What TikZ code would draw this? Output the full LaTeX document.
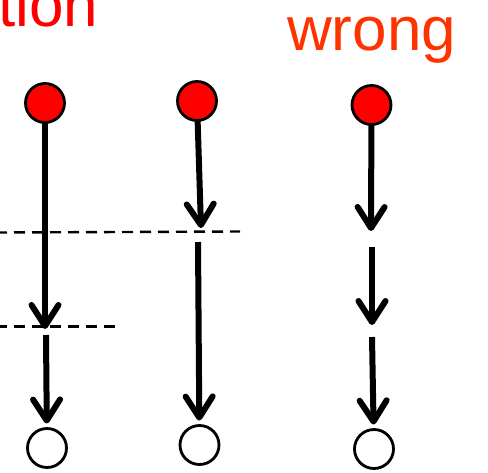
\documentclass[tikz,border=0pt]{standalone}
\usepackage{fontspec}
\setmainfont{Liberation Sans}
\usetikzlibrary{arrows.meta}
\definecolor{redtxt}{HTML}{FF0000}
\definecolor{wrongtxt}{HTML}{FF3300}
\begin{document}
\begin{tikzpicture}[x=1pt,y=-1pt,
  startdot/.style={circle,draw=black,fill=red,line width=2.8pt,minimum size=39pt,inner sep=0pt,outer sep=0pt},
  enddot/.style={circle,draw=black,fill=white,line width=2.8pt,minimum size=39pt,inner sep=0pt,outer sep=0pt},
  flow/.style={line width=6pt,-{Straight Barb[length=21pt,width=27pt,line cap=round,line join=round]}},
  cut/.style={line width=2.4pt,dash pattern=on 11pt off 7pt,dash phase=4pt},
  lbl/.style={font=\fontsize{62}{62}\selectfont,inner sep=0pt,anchor=base west}]
\useasboundingbox (0,0) rectangle (488,472);
\node[lbl,text=redtxt] (t1) at (-2,26) {tion};
\node[lbl,text=wrongtxt] (t2) at (287,50) {wrong};
% coordinates
\coordinate (c1a) at (45,329);
\coordinate (c1b) at (46,335);
\coordinate (c2a) at (201,228);
\coordinate (c2b) at (198,242);
\coordinate (c3a) at (371,231);
\coordinate (c3b) at (372,247);
\coordinate (c3c) at (372,325);
\coordinate (c3d) at (372,337);
\coordinate (d1a) at (0,232.5);
\coordinate (d1b) at (240,231.5);
\coordinate (d2a) at (0,326.5);
\coordinate (d2b) at (117,326.5);
% dashed lines
\draw[cut] (d1a) -- (d1b);
\draw[cut] (d2a) -- (d2b);
% arrows (drawn before dots)
\coordinate (r1c) at (45,103);
\coordinate (r2c) at (197,101);
\coordinate (r3c) at (371.5,105);
\draw[flow] (r1c) -- (c1a);
\draw[flow] (r2c) -- (c2a);
\draw[flow] (r3c) -- (c3a);
\draw[flow] (c3b) -- (c3c);
% dots
\node[startdot] (r1) at (r1c) {};
\node[startdot] (r2) at (r2c) {};
\node[startdot] (r3) at (r3c) {};
\node[enddot] (w1) at (47,448) {};
\node[enddot] (w2) at (199.5,445) {};
\node[enddot] (w3) at (374,449) {};
\draw[flow,shorten >=5pt] (c1b) -- (w1);
\draw[flow,shorten >=5pt] (c2b) -- (w2);
\draw[flow,shorten >=5pt] (c3d) -- (w3);
\end{tikzpicture}
\end{document}
